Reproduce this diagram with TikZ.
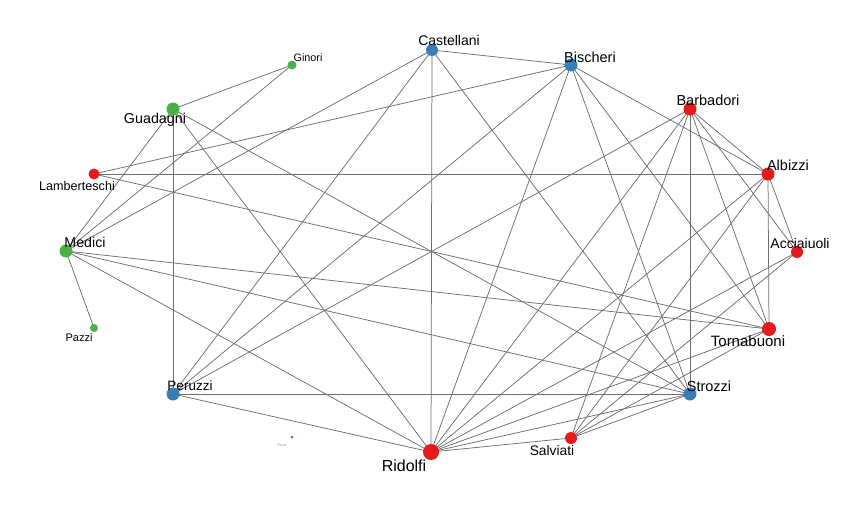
\documentclass[tikz,border=0pt]{standalone}
\usepackage{fontspec}
\setmainfont{Liberation Sans}
\usetikzlibrary{backgrounds}
\definecolor{cred}{RGB}{228,26,28}
\definecolor{cblue}{RGB}{55,126,184}
\definecolor{cgreen}{RGB}{77,175,74}
\definecolor{cpurple}{RGB}{152,78,163}
\definecolor{edgec}{RGB}{110,110,110}
\tikzset{
  dot/.style={circle, inner sep=0pt, draw=none},
  lbl/.style={inner sep=0pt, text=black},
  edge/.style={draw=edgec, line width=0.75pt},
}
\begin{document}
\begin{tikzpicture}[x=1pt,y=-1pt]
\useasboundingbox (0,0) rectangle (864,504);
% nodes
\node[dot, fill=cblue,  minimum size=12pt] (Ca) at (432,50) {};
\node[dot, fill=cblue,  minimum size=13pt] (Bi) at (571,65) {};
\node[dot, fill=cred,   minimum size=13pt] (Ba) at (690,109) {};
\node[dot, fill=cred,   minimum size=13pt] (Al) at (768,174) {};
\node[dot, fill=cred,   minimum size=12pt] (Ac) at (797,252) {};
\node[dot, fill=cred,   minimum size=14pt] (To) at (769,329) {};
\node[dot, fill=cblue,  minimum size=13pt] (St) at (690,394) {};
\node[dot, fill=cred,   minimum size=12pt] (Sa) at (571,438) {};
\node[dot, fill=cred,   minimum size=16pt] (Ri) at (431,452) {};
\node[dot, fill=cpurple,minimum size=3pt] (Pu) at (292,437) {};
\node[dot, fill=cblue,  minimum size=13pt] (Pe) at (173,394) {};
\node[dot, fill=cgreen, minimum size=8pt]  (Pa) at (94,328) {};
\node[dot, fill=cgreen, minimum size=13pt] (Me) at (66,251) {};
\node[dot, fill=cred,   minimum size=11pt] (La) at (94,174) {};
\node[dot, fill=cgreen, minimum size=13pt] (Gu) at (173,109) {};
\node[dot, fill=cgreen, minimum size=9pt]  (Gi) at (292,65) {};
% labels
\node[lbl, font=\fontsize{14}{14}\selectfont] (Ca-l) at (449,40) {Castellani};
\node[lbl, font=\fontsize{14.5}{14}\selectfont] (Bi-l) at (590,57) {Bischeri};
\node[lbl, font=\fontsize{14.5}{14}\selectfont] (Ba-l) at (708,100) {Barbadori};
\node[lbl, font=\fontsize{14.5}{14}\selectfont] (Al-l) at (788,165) {Albizzi};
\node[lbl, font=\fontsize{14}{14}\selectfont] (Ac-l) at (800,243) {Acciaiuoli};
\node[lbl, font=\fontsize{15}{14}\selectfont] (To-l) at (748,341) {Tornabuoni};
\node[lbl, font=\fontsize{14.5}{14}\selectfont] (St-l) at (709,386) {Strozzi};
\node[lbl, font=\fontsize{13.8}{14}\selectfont] (Sa-l) at (552,451) {Salviati};
\node[lbl, font=\fontsize{16}{16}\selectfont] (Ri-l) at (404,466) {Ridolfi};
\node[lbl, font=\fontsize{3.5}{4}\selectfont, text=gray] (Pu-l) at (282,445) {Pucci};
\node[lbl, font=\fontsize{13.5}{14}\selectfont] (Pe-l) at (190,386) {Peruzzi};
\node[lbl, font=\fontsize{11}{12}\selectfont] (Pa-l) at (79,338) {Pazzi};
\node[lbl, font=\fontsize{14.2}{14}\selectfont] (Me-l) at (85,242) {Medici};
\node[lbl, font=\fontsize{12.6}{13}\selectfont] (La-l) at (77,186) {Lamberteschi};
\node[lbl, font=\fontsize{14.3}{14}\selectfont] (Gu-l) at (155,120) {Guadagni};
\node[lbl, font=\fontsize{10.8}{11}\selectfont] (Gi-l) at (308,58) {Ginori};
% edges
\begin{scope}[on background layer]
\foreach \a/\b in {Gi/Gu, Gi/Me, Me/Pa, Me/Gu, Me/Ca, Me/To, Me/St, Me/Ri,
  Gu/Pe, Gu/Ri, Gu/St, La/Al, La/Bi, La/To,
  Ca/Bi, Ca/Ri, Ca/Pe, Ca/St,
  Bi/Pe, Bi/Ri, Bi/St, Bi/To, Bi/Al,
  Ba/Al, Ba/Ac, Ba/To, Ba/St, Ba/Sa, Ba/Pe, Ba/Ri,
  Al/To, Al/Ac, Al/Ri, Al/Sa, Ac/Ri, Ac/Sa,
  To/Ri, To/Sa, St/Ri, St/Pe, St/Sa, Sa/Ri, Pe/Ri}
  \draw[edge] (\a.center) -- (\b.center);
\end{scope}
\end{tikzpicture}
\end{document}
